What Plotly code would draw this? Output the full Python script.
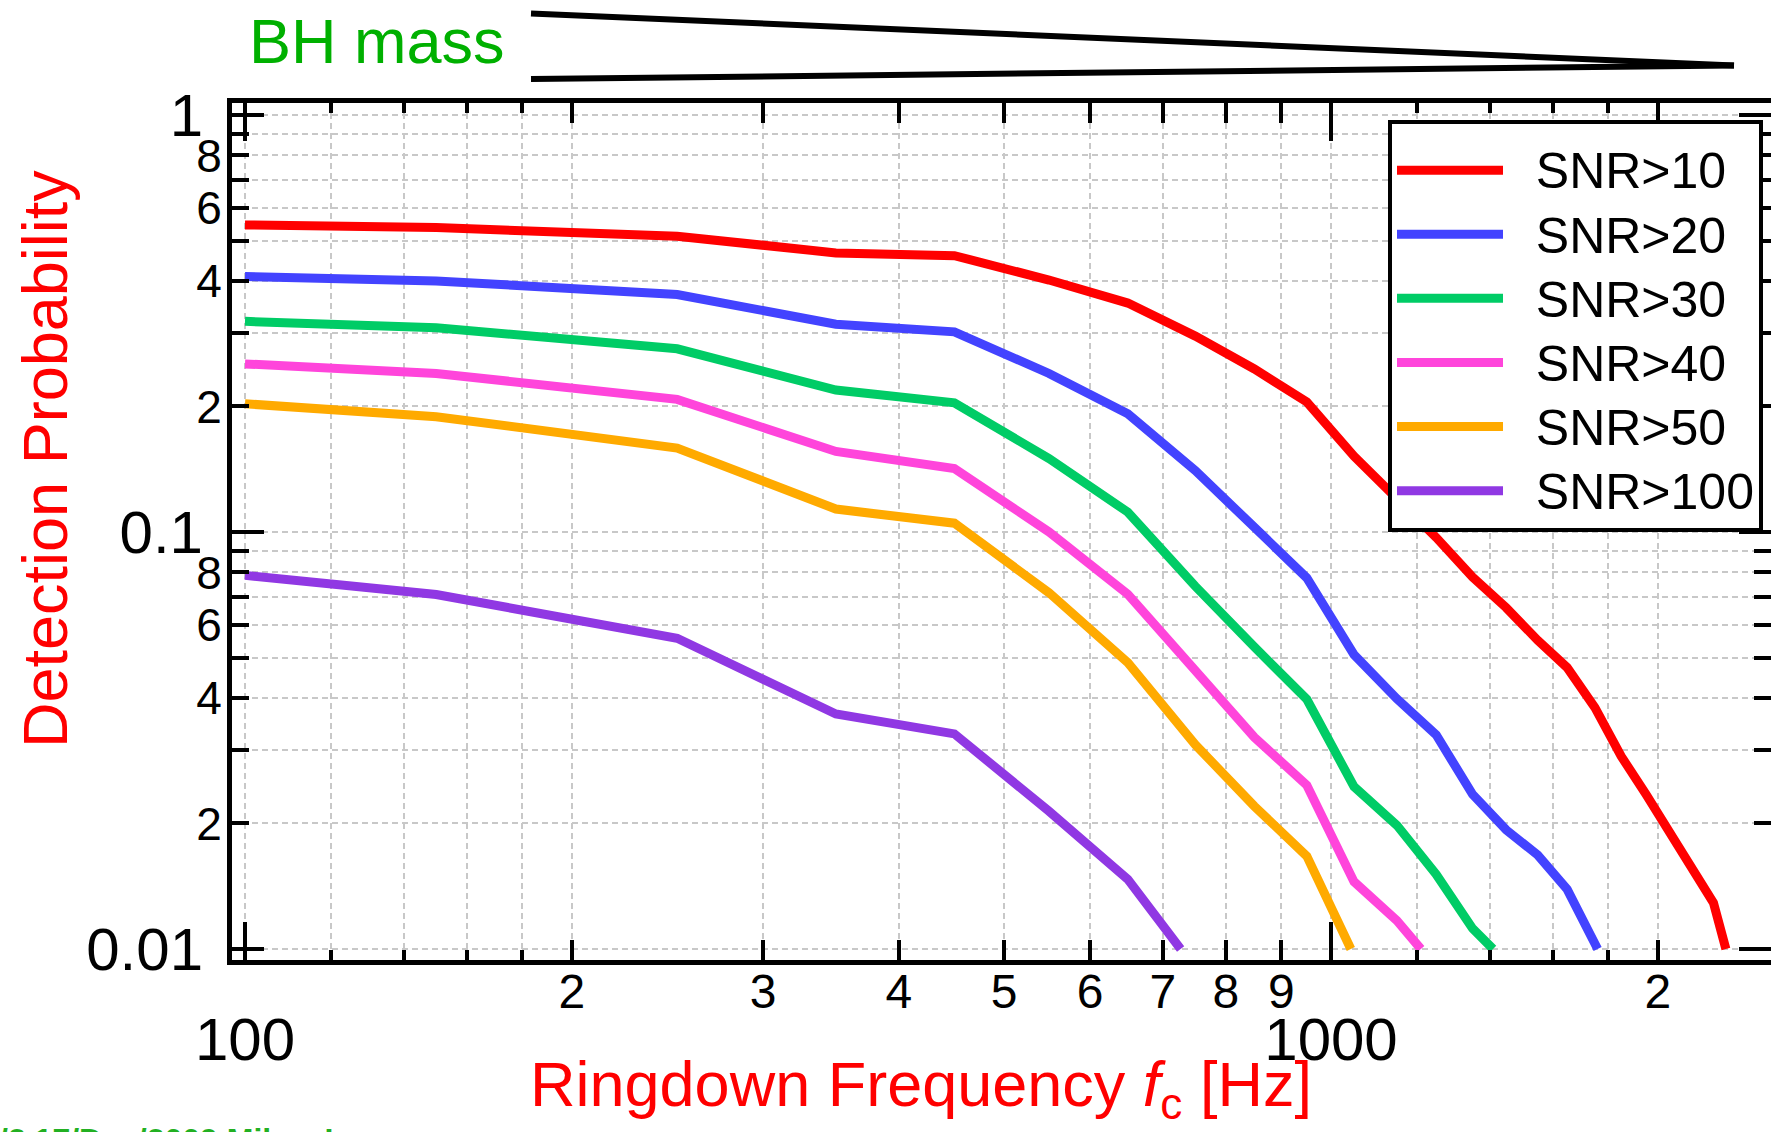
import plotly.graph_objects as go

# ---------------- data ----------------
series_names = ["SNR>10", "SNR>20", "SNR>30", "SNR>40", "SNR>50", "SNR>100"]

freq_snr10 = [100, 150, 250, 350, 450, 550, 650, 750, 850, 950, 1050, 1150, 1250,
              1350, 1450, 1550, 1650, 1750, 1850, 1950, 2050, 2150, 2250, 2310]
prob_snr10 = [0.545, 0.537, 0.512, 0.467, 0.460, 0.402, 0.354, 0.295, 0.246, 0.205,
              0.152, 0.121, 0.097, 0.078, 0.0658, 0.055, 0.0473, 0.0379, 0.029,
              0.0235, 0.0191, 0.0157, 0.0129, 0.010]

freq_snr20 = [100, 150, 250, 350, 450, 550, 650, 750, 850, 950, 1050, 1150, 1250,
              1350, 1450, 1550, 1650, 1760]
prob_snr20 = [0.410, 0.400, 0.371, 0.315, 0.302, 0.240, 0.192, 0.1404, 0.1026,
              0.0776, 0.0508, 0.0398, 0.0326, 0.0235, 0.0193, 0.0168, 0.0139, 0.010]

freq_snr30 = [100, 150, 250, 350, 450, 550, 650, 750, 850, 950, 1050, 1150, 1250,
              1350, 1410]
prob_snr30 = [0.320, 0.309, 0.275, 0.219, 0.204, 0.150, 0.1116, 0.0741, 0.053,
              0.0397, 0.0245, 0.0198, 0.0151, 0.0112, 0.010]

freq_snr40 = [100, 150, 250, 350, 450, 550, 650, 750, 850, 950, 1050, 1150, 1210]
prob_snr40 = [0.253, 0.240, 0.208, 0.156, 0.142, 0.100, 0.0709, 0.0463, 0.0322,
              0.0247, 0.0145, 0.0117, 0.010]

freq_snr50 = [100, 150, 250, 350, 450, 550, 650, 750, 850, 950, 1043]
prob_snr50 = [0.203, 0.189, 0.159, 0.1135, 0.105, 0.0715, 0.0486, 0.0309, 0.0220,
              0.0167, 0.010]

freq_snr100 = [100, 150, 250, 350, 450, 550, 650, 727]
prob_snr100 = [0.0787, 0.0708, 0.0556, 0.0366, 0.0328, 0.0214, 0.0147, 0.010]

all_freqs = [freq_snr10, freq_snr20, freq_snr30, freq_snr40, freq_snr50, freq_snr100]
all_probs = [prob_snr10, prob_snr20, prob_snr30, prob_snr40, prob_snr50, prob_snr100]
colors = ["#FF0000", "#4343FF", "#00CC66", "#FF45DB", "#FFAA00", "#9038E3"]

# tick definitions
x_mid_ticks = [200, 300, 400, 500, 600, 700, 800, 900, 2000]
x_mid_text = ["2", "3", "4", "5", "6", "7", "8", "9", "2"]
x_small_ticks = [120, 140, 160, 180, 1200, 1400, 1600, 1800]
x_major_ticks = [100, 1000]
x_major_text = ["100", "1000"]

y_label_ticks = [0.02, 0.04, 0.06, 0.08, 0.2, 0.4, 0.6, 0.8]
y_label_text = ["2", "4", "6", "8", "2", "4", "6", "8"]
y_unlabeled_ticks = [0.03, 0.05, 0.07, 0.09, 0.3, 0.5, 0.7, 0.9]
y_major_ticks = [0.01, 0.1, 1]
y_major_text = ["0.01", "0.1", "1"]

# ---------------- figure ----------------
W, H = 1771, 1132
L, R, T, B = 232, 0, 103, 172
PW, PH = W - L - R, H - T - B

def px_x(p):
    return (p - L) / PW

def px_y(p):
    return (H - B - p) / PH

FONT = "Liberation Sans, Arial, sans-serif"
GRID = "#c8c8c8"
GDASH = "6px,4px"

fig = go.Figure()
for name, fx, py, c in zip(series_names, all_freqs, all_probs, colors):
    fig.add_trace(go.Scatter(
        x=fx, y=py, mode="lines",
        name="<span style='font-size:50px'>&nbsp;&nbsp;" + name.replace(">", "&gt;") + "</span>",
        line=dict(color=c, width=9), hoverinfo="x+y"))

# invisible trace so the overlay axes (x2/y2) get drawn
fig.add_trace(go.Scatter(x=freq_snr10, y=prob_snr10, xaxis="x2", yaxis="y2",
                         mode="lines", line=dict(color="rgba(0,0,0,0)", width=0),
                         showlegend=False, hoverinfo="skip"))

x_range = [1.98803, 3.40516]
y_range = [-2.02638, 0.02878]

common_line = dict(showline=True, linewidth=5, linecolor="black", mirror="allticks",
                   ticks="inside", tickwidth=4, tickcolor="black",
                   showgrid=True, gridcolor=GRID, gridwidth=1.5, griddash=GDASH,
                   zeroline=False, automargin=False)

fig.update_layout(
    width=W, height=H, autosize=False,
    margin=dict(l=L, r=R, t=T, b=B, pad=0),
    paper_bgcolor="white", plot_bgcolor="white",
    font=dict(family=FONT, color="black"),
    xaxis=dict(type="log", range=x_range, tickmode="array",
               tickvals=x_mid_ticks, ticktext=x_mid_text, ticklen=20,
               tickfont=dict(size=48, family=FONT), ticklabelstandoff=-15,
               minor=dict(tickmode="array", tickvals=x_small_ticks, ticks="inside",
                          ticklen=10, tickwidth=4, tickcolor="black",
                          showgrid=True, gridcolor=GRID, gridwidth=1.5, griddash=GDASH),
               **common_line),
    xaxis2=dict(type="log", range=x_range, overlaying="x", anchor="y", side="bottom",
                tickmode="array", tickvals=x_major_ticks, ticktext=x_major_text,
                ticklen=38, tickfont=dict(size=60, family=FONT), ticklabelstandoff=23,
                **common_line),
    yaxis=dict(type="log", range=y_range, tickmode="array",
               tickvals=y_label_ticks, ticktext=y_label_text, ticklen=17,
               tickfont=dict(size=46, family=FONT), ticklabelstandoff=-4,
               minor=dict(tickmode="array", tickvals=y_unlabeled_ticks, ticks="inside",
                          ticklen=17, tickwidth=4, tickcolor="black",
                          showgrid=True, gridcolor=GRID, gridwidth=1.5, griddash=GDASH),
               **common_line),
    yaxis2=dict(type="log", range=y_range, overlaying="y", anchor="x", side="left",
                tickmode="array", tickvals=y_major_ticks, ticktext=y_major_text,
                ticklen=32, tickfont=dict(size=60, family=FONT), ticklabelstandoff=12,
                **common_line),
    legend=dict(x=px_x(1388), y=px_y(120), xanchor="left", yanchor="top",
                bgcolor="white", bordercolor="black", borderwidth=4,
                font=dict(size=47, family=FONT, color="black"),
                title=dict(text="&nbsp;", font=dict(size=7)),
                itemwidth=106, tracegroupgap=0),
    showlegend=True,
)

# axis titles and labels
fig.add_annotation(text="Ringdown Frequency <i>f</i><sub>c</sub> [Hz]",
                   xref="paper", yref="paper", x=px_x(921), y=px_y(1047),
                   xanchor="center", yanchor="top", showarrow=False,
                   font=dict(size=63, color="#FF0000", family=FONT))
fig.add_annotation(text="Detection Probability", textangle=-90,
                   xref="paper", yref="paper", x=px_x(45), y=px_y(459),
                   xanchor="center", yanchor="middle", showarrow=False,
                   font=dict(size=63, color="#FF0000", family=FONT))
fig.add_annotation(text="BH mass", xref="paper", yref="paper",
                   x=px_x(247), y=px_y(4), xanchor="left", yanchor="top",
                   showarrow=False, font=dict(size=63, color="#00B000", family=FONT))
fig.add_annotation(text="<b>/2.17/Dec/2009 Mikey Lee</b>", xref="paper", yref="paper",
                   x=px_x(-3), y=px_y(1120), xanchor="left", yanchor="top",
                   showarrow=False, font=dict(size=32, color="#22B022", family=FONT))

# BH mass wedge
fig.add_shape(type="line", xref="paper", yref="paper",
              x0=px_x(531), y0=px_y(13.5), x1=px_x(1734), y1=px_y(65.5),
              line=dict(color="black", width=6))
fig.add_shape(type="line", xref="paper", yref="paper",
              x0=px_x(531), y0=px_y(79), x1=px_x(1734), y1=px_y(65.5),
              line=dict(color="black", width=6))

fig.write_html("out.html")
